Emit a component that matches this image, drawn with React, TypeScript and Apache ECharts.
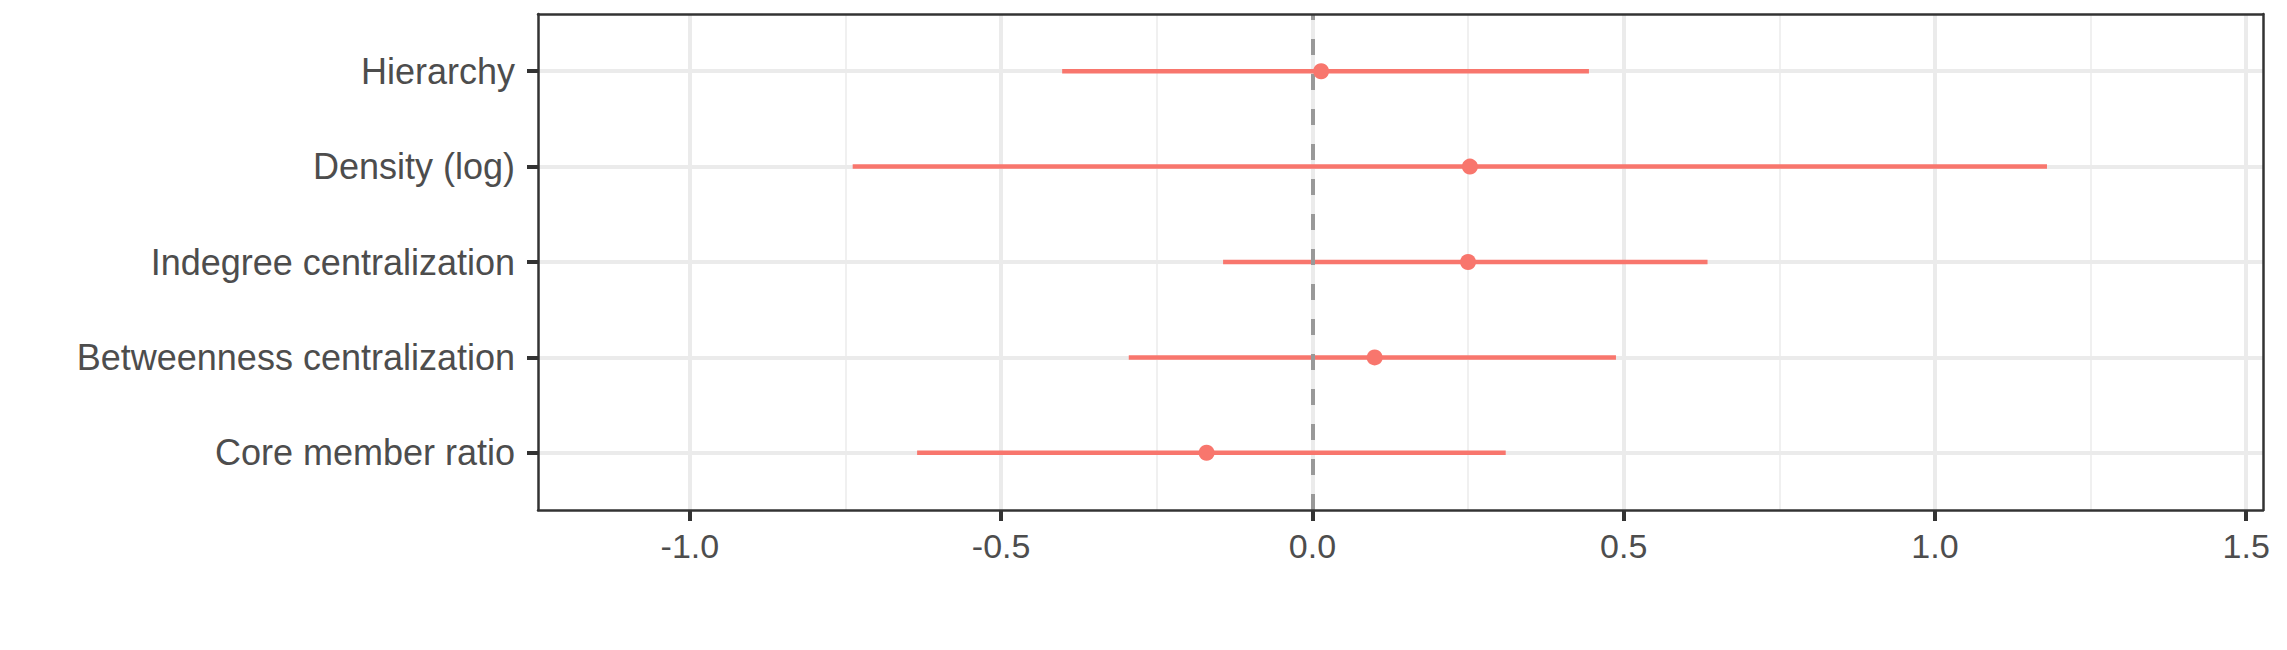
import React, { useEffect, useRef } from "react";
import * as echarts from "echarts";

// Categories, bottom to top
const categories = [
  "Core member ratio",
  "Betweenness centralization",
  "Indegree centralization",
  "Density (log)",
  "Hierarchy",
];
const estimates = [-0.17, 0.1, 0.25, 0.253, 0.014];
const lowerCI = [-0.635, -0.295, -0.1435, -0.7385, -0.402];
const upperCI = [0.3105, 0.4876, 0.6347, 1.18, 0.4442];

const xTicks = [-1.0, -0.5, 0.0, 0.5, 1.0, 1.5];
const xMinorGrid = [-0.75, -0.25, 0.25, 0.75, 1.25];
const xMin = -1.244;
const xMax = 1.527;
const yMin = 0.4;
const yMax = 5.6;

const RED = "#F8766D";
const DARK = "#333333";
const TEXT = "#4D4D4D";
const GRID = "#EBEBEB";
const FONT = "'Liberation Sans', Arial, Helvetica, sans-serif";

export default function App() {
  const ref = useRef<HTMLDivElement>(null);

  useEffect(() => {
    if (!ref.current) return;
    const chart = echarts.init(ref.current, undefined, { renderer: "svg" });
    const yPositions = categories.map((_, i) => i + 1);

    const borderAxis = {
      axisLine: { show: true, onZero: false, lineStyle: { color: DARK, width: 2.5 } },
      axisTick: { show: false },
      axisLabel: { show: false },
      splitLine: { show: false },
    };

    chart.setOption({
      animation: false,
      backgroundColor: "#FFFFFF",
      grid: { left: 538, right: 24, top: 14, bottom: 140, show: false },
      xAxis: [
        {
          type: "value",
          min: xMin,
          max: xMax,
          position: "bottom",
          z: 10,
          axisLine: { show: true, onZero: false, lineStyle: { color: DARK, width: 2.5 } },
          axisTick: {
            show: true,
            customValues: xTicks,
            length: 11,
            lineStyle: { color: DARK, width: 4 },
          },
          axisLabel: {
            show: true,
            customValues: xTicks,
            formatter: (v: number) => v.toFixed(1),
            color: TEXT,
            fontSize: 34,
            fontFamily: FONT,
            margin: 19,
          },
          splitLine: { show: false },
        },
        { type: "value", min: xMin, max: xMax, position: "top", z: 10, ...borderAxis },
      ],
      yAxis: [
        {
          type: "value",
          min: yMin,
          max: yMax,
          position: "left",
          z: 10,
          axisLine: { show: true, onZero: false, lineStyle: { color: DARK, width: 2.5 } },
          axisTick: {
            show: true,
            customValues: yPositions,
            length: 11,
            lineStyle: { color: DARK, width: 4 },
          },
          axisLabel: {
            show: true,
            customValues: yPositions,
            formatter: (v: number) => categories[Math.round(v) - 1] ?? "",
            color: TEXT,
            fontSize: 36,
            fontFamily: FONT,
            margin: 23,
          },
          splitLine: { show: false },
        },
        { type: "value", min: yMin, max: yMax, position: "right", z: 10, ...borderAxis },
      ],
      series: [
        {
          name: "grid",
          type: "line",
          data: [],
          z: 1,
          silent: true,
          markLine: {
            silent: true,
            z: 1,
            symbol: "none",
            label: { show: false },
            emphasis: { disabled: true },
            data: [
              ...xMinorGrid.map((v) => ({ xAxis: v, lineStyle: { color: "#F0F0F0", width: 2, type: "solid" } })),
              ...xTicks.map((v) => ({ xAxis: v, lineStyle: { color: GRID, width: 4, type: "solid" } })),
              ...yPositions.map((v) => ({ yAxis: v, lineStyle: { color: GRID, width: 4, type: "solid" } })),
            ],
          },
        },
        {
          name: "ci",
          type: "custom",
          z: 2,
          silent: true,
          data: categories.map((_, i) => [lowerCI[i], upperCI[i], i + 1]),
          encode: { x: [0, 1], y: 2 },
          renderItem: (params: any, api: any) => {
            const lo = api.coord([api.value(0), api.value(2)]);
            const hi = api.coord([api.value(1), api.value(2)]);
            return {
              type: "line",
              shape: { x1: lo[0], y1: lo[1], x2: hi[0], y2: hi[1] },
              style: { stroke: RED, lineWidth: 4.5 },
            };
          },
        },
        {
          name: "zero",
          type: "line",
          data: [],
          z: 3,
          silent: true,
          markLine: {
            silent: true,
            z: 3,
            symbol: "none",
            label: { show: false },
            emphasis: { disabled: true },
            data: [{ xAxis: 0, lineStyle: { color: "#999999", width: 4, type: [16, 19] } }],
          },
        },
        {
          name: "estimate",
          type: "scatter",
          z: 4,
          silent: true,
          symbol: "circle",
          symbolSize: 16,
          itemStyle: { color: RED, opacity: 1 },
          data: categories.map((_, i) => [estimates[i], i + 1]),
        },
      ],
    });

    return () => chart.dispose();
  }, []);

  return (
    <div
      ref={ref}
      style={{ position: "fixed", left: 0, top: 0, width: 2287, height: 650, background: "#FFFFFF" }}
    />
  );
}
